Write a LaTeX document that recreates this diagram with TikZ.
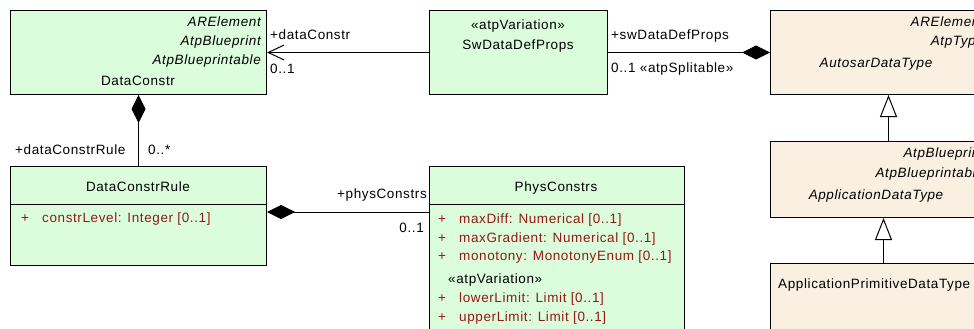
\documentclass[tikz,border=0pt]{standalone}
\usepackage{fontspec}
\setmainfont{Liberation Sans}[LetterSpace=4.5]
\usetikzlibrary{arrows.meta, calc, positioning}
\definecolor{clsgreen}{RGB}{220,253,220}
\definecolor{clsbeige}{RGB}{250,240,226}
\definecolor{attrred}{RGB}{145,25,25}
\newcommand{\attrline}[1]{\makebox[21pt][l]{+}#1}

\begin{document}
\begin{tikzpicture}[x=1pt, y=-1pt,
    font=\fontsize{13.5}{16}\selectfont,
    cls/.style={draw, line width=1pt, inner sep=0pt, anchor=north west},
    txt/.style={inner sep=0pt, text height=9.5pt, text depth=0pt},
    stereo/.style={txt, font=\fontsize{13.5}{16}\selectfont\itshape, anchor=east},
    attr/.style={txt, anchor=west, text=attrred},
    comp/.style={line width=1pt, {Diamond[length=28pt,width=14pt]}-},
    gen/.style={line width=1pt, -{Triangle[open,length=22pt,width=17pt]}},
    nav/.style={line width=1pt, -{Straight Barb[length=16pt,width=15pt]}}]
    \useasboundingbox (0,0) rectangle (974,329);
    \clip (0,0) rectangle (974,329);

    % classes
    \node[cls, fill=clsgreen, minimum width=256pt, minimum height=84pt] (dataConstr) at (10,10) {};
    \node[cls, fill=clsgreen, minimum width=178pt, minimum height=84pt] (swDataDefProps) at (429,10) {};
    \node[cls, fill=clsbeige, minimum width=222pt, minimum height=84pt] (autosarDataType) at (770,10) {};
    \node[cls, fill=clsbeige, minimum width=222pt, minimum height=76pt] (applicationDataType) at (770,141) {};
    \node[cls, fill=clsbeige, minimum width=222pt, minimum height=90pt] (applicationPrimitiveDataType) at (770,263) {};
    \node[cls, fill=clsgreen, minimum width=256pt, minimum height=99pt] (dataConstrRule) at (10,166) {};
    \node[cls, fill=clsgreen, minimum width=255pt, minimum height=180pt] (physConstrs) at (429,166) {};
    \draw[line width=1pt] ([yshift=-38pt]dataConstrRule.north west) -- ([yshift=-38pt]dataConstrRule.north east);
    \draw[line width=1pt] ([yshift=-38pt]physConstrs.north west) -- ([yshift=-38pt]physConstrs.north east);

    \node[stereo] (dcStereoA) at (261,22) {ARElement};
    \node[stereo] (dcStereoB) at (261,41) {AtpBlueprint};
    \node[stereo] (dcStereoC) at (261,60) {AtpBlueprintable};
    \node[txt] (dcName) at (138,81) {DataConstr};

    \node[txt] (swStereo) at (518,25) {«atpVariation»};
    \node[txt] (swName) at (518,45) {SwDataDefProps};

    \node[stereo] (adtStereoA) at (984,22) {ARElement};
    \node[stereo] (adtStereoB) at (984,41) {AtpType};
    \node[stereo, anchor=center] (adtName) at (876,63) {AutosarDataType};

    \node[stereo] (appStereoA) at (984,153) {AtpBlueprint};
    \node[stereo] (appStereoB) at (984,173) {AtpBlueprintable};
    \node[stereo, anchor=center] (appName) at (876,195) {ApplicationDataType};

    \node[txt, anchor=west] (primName) at (778,284) {ApplicationPrimitiveDataType};

    \node[txt] (ruleName) at (138,187) {DataConstrRule};
    \node[attr] (ruleAttr) at (21,218) {\attrline{constrLevel: Integer [0..1]}};

    \node[txt] (physName) at (556,187) {PhysConstrs};
    \node[attr] (physAttrA) at (438,219) {\attrline{maxDiff: Numerical [0..1]}};
    \node[attr] (physAttrB) at (438,238) {\attrline{maxGradient: Numerical [0..1]}};
    \node[attr] (physAttrC) at (438,256) {\attrline{monotony: MonotonyEnum [0..1]}};
    \node[txt, anchor=west] (physStereo) at (448,279) {«atpVariation»};
    \node[attr] (physAttrD) at (438,298) {\attrline{lowerLimit: Limit [0..1]}};
    \node[attr] (physAttrE) at (438,317) {\attrline{upperLimit: Limit [0..1]}};

    % connectors
    \draw[nav] (swDataDefProps.west) -- (dataConstr.east);
    \draw[comp] (autosarDataType.west) -- (swDataDefProps.east);
    \draw[comp] (dataConstr.south) -- (dataConstrRule.north);
    \coordinate (ruleJoint) at ([yshift=-46pt]dataConstrRule.north east);
    \draw[comp] (ruleJoint) -- (ruleJoint -| physConstrs.west);
    \draw[gen] ([xshift=7pt]applicationDataType.north) -- ([xshift=7pt]autosarDataType.south);
    \draw[gen] ([xshift=2pt]applicationPrimitiveDataType.north) -- ([xshift=2pt]applicationDataType.south);

    % role labels
    \node[txt, anchor=west] (dcRole) at (270,35) {+dataConstr};
    \node[txt, anchor=west] (dcMult) at (270,69) {0..1};
    \node[txt, anchor=west] (swRole) at (611,35) {+swDataDefProps};
    \node[txt, anchor=west] (swMult) at (611,68) {0..1 «atpSplitable»};
    \node[txt, anchor=west] (ruleRole) at (15,150) {+dataConstrRule};
    \node[txt, anchor=west] (ruleMult) at (148,150) {0..*};
    \node[txt, anchor=east] (physRole) at (427,194) {+physConstrs};
    \node[txt, anchor=east] (physMult) at (424,228) {0..1};
\end{tikzpicture}
\end{document}
